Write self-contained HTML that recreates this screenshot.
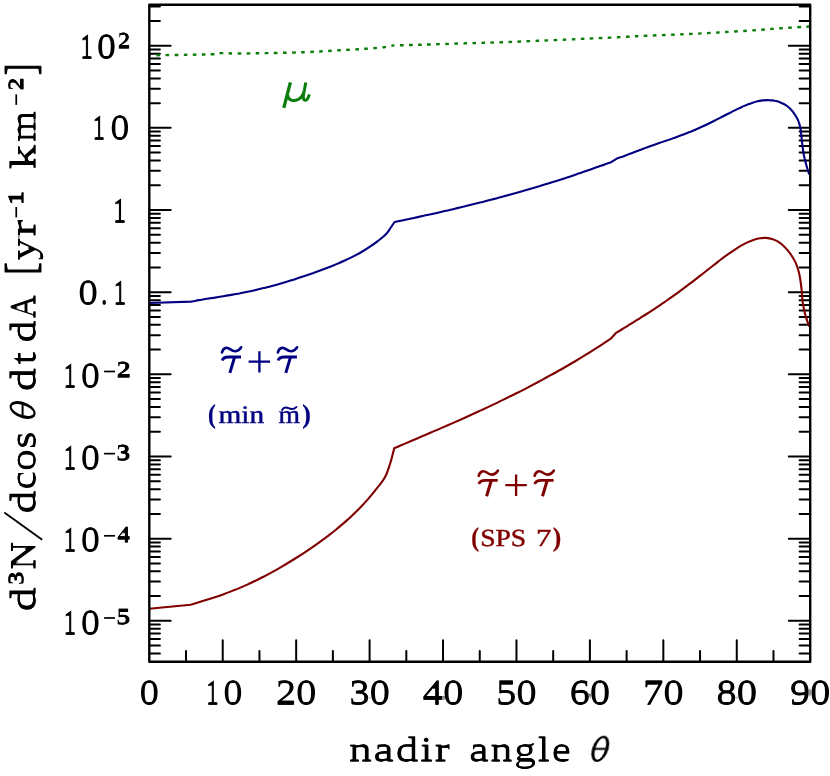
<!DOCTYPE html>
<html><head><meta charset="utf-8"><title>plot</title>
<style>
html,body{margin:0;padding:0;background:#fff;}
body{width:830px;height:776px;overflow:hidden;font-family:"Liberation Serif",serif;}
svg{display:block;will-change:transform;}
text{font-family:"Liberation Serif",serif;text-rendering:geometricPrecision;}
</style></head><body>
<svg width="830" height="776" viewBox="0 0 830 776">
<rect x="0" y="0" width="830" height="776" fill="#fff"/>
<path d="M149.3,653.51h10.6M810.2,653.51h-10.6M149.3,645.55h10.6M810.2,645.55h-10.6M149.3,639.05h10.6M810.2,639.05h-10.6M149.3,633.55h10.6M810.2,633.55h-10.6M149.3,628.78h10.6M810.2,628.78h-10.6M149.3,624.58h10.6M810.2,624.58h-10.6M149.3,620.82h21.4M810.2,620.82h-21.4M149.3,596.09h10.6M810.2,596.09h-10.6M149.3,581.62h10.6M810.2,581.62h-10.6M149.3,571.35h10.6M810.2,571.35h-10.6M149.3,563.39h10.6M810.2,563.39h-10.6M149.3,556.89h10.6M810.2,556.89h-10.6M149.3,551.39h10.6M810.2,551.39h-10.6M149.3,546.62h10.6M810.2,546.62h-10.6M149.3,542.42h10.6M810.2,542.42h-10.6M149.3,538.66h21.4M810.2,538.66h-21.4M149.3,513.93h10.6M810.2,513.93h-10.6M149.3,499.46h10.6M810.2,499.46h-10.6M149.3,489.19h10.6M810.2,489.19h-10.6M149.3,481.23h10.6M810.2,481.23h-10.6M149.3,474.73h10.6M810.2,474.73h-10.6M149.3,469.23h10.6M810.2,469.23h-10.6M149.3,464.46h10.6M810.2,464.46h-10.6M149.3,460.26h10.6M810.2,460.26h-10.6M149.3,456.50h21.4M810.2,456.50h-21.4M149.3,431.77h10.6M810.2,431.77h-10.6M149.3,417.30h10.6M810.2,417.30h-10.6M149.3,407.03h10.6M810.2,407.03h-10.6M149.3,399.07h10.6M810.2,399.07h-10.6M149.3,392.57h10.6M810.2,392.57h-10.6M149.3,387.07h10.6M810.2,387.07h-10.6M149.3,382.30h10.6M810.2,382.30h-10.6M149.3,378.10h10.6M810.2,378.10h-10.6M149.3,374.34h21.4M810.2,374.34h-21.4M149.3,349.61h10.6M810.2,349.61h-10.6M149.3,335.14h10.6M810.2,335.14h-10.6M149.3,324.87h10.6M810.2,324.87h-10.6M149.3,316.91h10.6M810.2,316.91h-10.6M149.3,310.41h10.6M810.2,310.41h-10.6M149.3,304.91h10.6M810.2,304.91h-10.6M149.3,300.14h10.6M810.2,300.14h-10.6M149.3,295.94h10.6M810.2,295.94h-10.6M149.3,292.18h21.4M810.2,292.18h-21.4M149.3,267.45h10.6M810.2,267.45h-10.6M149.3,252.98h10.6M810.2,252.98h-10.6M149.3,242.71h10.6M810.2,242.71h-10.6M149.3,234.75h10.6M810.2,234.75h-10.6M149.3,228.25h10.6M810.2,228.25h-10.6M149.3,222.75h10.6M810.2,222.75h-10.6M149.3,217.98h10.6M810.2,217.98h-10.6M149.3,213.78h10.6M810.2,213.78h-10.6M149.3,210.02h21.4M810.2,210.02h-21.4M149.3,185.29h10.6M810.2,185.29h-10.6M149.3,170.82h10.6M810.2,170.82h-10.6M149.3,160.55h10.6M810.2,160.55h-10.6M149.3,152.59h10.6M810.2,152.59h-10.6M149.3,146.09h10.6M810.2,146.09h-10.6M149.3,140.59h10.6M810.2,140.59h-10.6M149.3,135.82h10.6M810.2,135.82h-10.6M149.3,131.62h10.6M810.2,131.62h-10.6M149.3,127.86h21.4M810.2,127.86h-21.4M149.3,103.13h10.6M810.2,103.13h-10.6M149.3,88.66h10.6M810.2,88.66h-10.6M149.3,78.39h10.6M810.2,78.39h-10.6M149.3,70.43h10.6M810.2,70.43h-10.6M149.3,63.93h10.6M810.2,63.93h-10.6M149.3,58.43h10.6M810.2,58.43h-10.6M149.3,53.66h10.6M810.2,53.66h-10.6M149.3,49.46h10.6M810.2,49.46h-10.6M149.3,45.70h21.4M810.2,45.70h-21.4M149.3,20.97h10.6M810.2,20.97h-10.6M149.3,6.50h10.6M810.2,6.50h-10.6M186.02,661.7v-10.6M222.73,661.7v-21.4M259.45,661.7v-10.6M296.17,661.7v-21.4M332.88,661.7v-10.6M369.60,661.7v-21.4M406.32,661.7v-10.6M443.03,661.7v-21.4M479.75,661.7v-10.6M516.47,661.7v-21.4M553.18,661.7v-10.6M589.90,661.7v-21.4M626.62,661.7v-10.6M663.33,661.7v-21.4M700.05,661.7v-10.6M736.77,661.7v-21.4M773.48,661.7v-10.6" stroke="#000" stroke-width="2.0" fill="none" stroke-linecap="round"/>
<path d="M149.3,55.3 C157.8,55.2 189.6,54.8 200.0,54.6 C210.4,54.4 208.4,54.5 212.0,54.2 C215.6,54.0 217.7,53.2 221.5,53.1 C225.3,53.0 229.1,53.5 235.0,53.5 C240.9,53.5 245.8,53.5 257.0,53.3 C268.2,53.1 288.3,52.8 302.0,52.3 C315.7,51.8 328.5,50.9 339.0,50.3 C349.5,49.7 357.5,49.3 365.0,48.8 C372.5,48.3 379.2,47.8 384.0,47.2 C388.8,46.6 391.9,45.7 393.5,45.4 C398.1,45.3 408.9,45.1 421.0,44.7 C433.1,44.4 452.5,43.7 466.0,43.3 C479.5,42.9 490.0,42.7 502.0,42.3 C514.0,41.9 525.7,41.3 537.8,40.8 C549.9,40.3 564.1,39.7 574.7,39.2 C585.3,38.7 592.4,38.4 601.3,38.0 C610.2,37.6 620.5,37.1 628.0,36.7 C635.5,36.3 637.3,36.1 646.4,35.7 C655.5,35.3 670.5,34.8 682.4,34.3 C694.3,33.8 705.8,33.2 717.8,32.5 C729.8,31.8 743.8,30.9 754.5,30.2 C765.2,29.5 772.6,28.8 781.9,28.2 C791.2,27.6 805.5,26.8 810.2,26.5" stroke="#0a7d0a" stroke-width="2.4" stroke-dasharray="3.6 5.437" stroke-dashoffset="1.8" fill="none"/>
<path d="M149.3,303.0 L190.6,301.6 C192.0,301.4 196.0,300.6 198.7,300.1 C201.4,299.7 204.2,299.2 206.9,298.8 C209.6,298.4 212.3,298.0 215.0,297.6 C217.7,297.1 220.4,296.7 223.1,296.3 C225.9,295.9 228.6,295.4 231.3,294.9 C234.0,294.5 236.7,294.0 239.4,293.5 C242.1,292.9 244.8,292.4 247.6,291.8 C250.3,291.3 253.0,290.7 255.7,290.0 C258.4,289.4 261.1,288.8 263.8,288.1 C266.5,287.4 269.3,286.7 272.0,285.9 C274.7,285.2 277.4,284.5 280.1,283.7 C282.8,282.9 285.5,282.1 288.2,281.3 C291.0,280.4 293.7,279.6 296.4,278.7 C299.1,277.8 301.8,277.0 304.5,276.0 C307.2,275.1 309.9,274.2 312.7,273.3 C315.4,272.3 318.1,271.3 320.8,270.3 C323.5,269.3 326.2,268.3 328.9,267.2 C331.6,266.2 334.4,265.1 337.1,263.9 C339.8,262.8 342.5,261.6 345.2,260.3 C347.9,259.1 350.6,257.8 353.4,256.4 C356.1,255.0 358.8,253.6 361.5,252.0 C364.2,250.4 366.9,248.8 369.6,246.9 C372.3,245.1 375.1,243.2 377.8,241.1 C380.5,239.0 383.8,236.5 385.9,234.3 C388.0,232.1 389.1,230.1 390.5,228.0 C391.9,225.9 393.9,223.0 394.6,222.0 C396.6,221.6 402.6,220.3 406.7,219.5 C410.7,218.6 414.7,217.8 418.7,216.9 C422.7,216.0 426.7,215.1 430.8,214.3 C434.8,213.4 438.8,212.4 442.8,211.5 C446.8,210.6 450.9,209.7 454.9,208.7 C458.9,207.8 462.9,206.8 466.9,205.8 C471.0,204.8 475.0,203.8 479.0,202.8 C483.0,201.8 487.0,200.8 491.0,199.7 C495.1,198.7 499.1,197.6 503.1,196.5 C507.1,195.4 511.1,194.3 515.2,193.2 C519.2,192.1 523.2,190.9 527.2,189.8 C531.2,188.6 535.2,187.4 539.3,186.2 C543.3,185.0 547.3,183.8 551.3,182.5 C555.3,181.3 559.4,180.0 563.4,178.7 C567.4,177.4 571.4,176.1 575.4,174.7 C579.5,173.4 583.5,172.0 587.5,170.6 C591.5,169.2 595.5,167.8 599.5,166.3 C603.6,164.9 609.6,162.6 611.6,161.9 L616.4,158.8 C617.4,158.4 620.5,157.4 622.5,156.7 C624.5,155.9 626.6,155.1 628.6,154.3 C630.6,153.6 632.7,152.8 634.7,152.0 C636.7,151.2 638.8,150.4 640.8,149.7 C642.8,148.9 644.9,148.2 646.9,147.4 C648.9,146.7 650.9,145.9 653.0,145.2 C655.0,144.5 657.0,143.8 659.1,143.1 C661.1,142.4 663.1,141.7 665.2,141.0 C667.2,140.3 669.2,139.6 671.3,138.9 C673.3,138.1 675.3,137.4 677.4,136.7 C679.4,136.0 681.4,135.2 683.5,134.4 C685.5,133.7 687.5,132.9 689.6,132.1 C691.6,131.2 693.6,130.4 695.7,129.5 C697.7,128.7 699.7,127.8 701.8,126.8 C703.8,125.9 705.8,125.0 707.8,124.0 C709.9,123.0 711.9,122.0 713.9,121.0 C716.0,120.0 718.0,118.9 720.0,117.9 C722.1,116.9 724.1,115.8 726.1,114.8 C728.2,113.7 730.2,112.7 732.2,111.6 C734.3,110.6 736.3,109.6 738.3,108.6 C740.4,107.7 742.4,106.7 744.4,105.9 C746.5,105.0 748.5,104.2 750.5,103.5 C752.6,102.8 754.6,102.1 756.6,101.6 C758.6,101.1 760.7,100.7 762.7,100.4 C764.7,100.2 766.8,100.0 768.8,100.1 C770.8,100.1 772.9,100.3 774.9,100.8 C776.9,101.2 779.0,101.8 781.0,102.7 C783.0,103.5 785.1,104.5 787.1,106.0 C789.1,107.5 791.2,109.4 793.0,111.8 C794.8,114.2 796.8,117.4 798.0,120.2 C799.2,123.0 799.8,124.7 800.5,128.6 C801.2,132.5 801.6,139.2 802.2,143.7 C802.8,148.2 803.2,151.8 803.9,155.4 C804.6,159.0 805.4,161.8 806.3,165.0 C807.2,168.2 808.7,172.9 809.2,174.5" stroke="#000080" stroke-width="2.1" fill="none" stroke-linejoin="round"/>
<path d="M149.3,608.8 L190.6,604.7 C192.0,604.3 196.0,603.1 198.7,602.3 C201.4,601.5 204.1,600.7 206.8,599.8 C209.5,599.0 212.2,598.1 214.9,597.2 C217.6,596.3 220.3,595.4 223.0,594.4 C225.7,593.5 228.4,592.5 231.1,591.4 C233.8,590.3 236.5,589.3 239.2,588.1 C241.9,587.0 244.6,585.8 247.3,584.6 C250.0,583.3 252.7,582.1 255.4,580.8 C258.1,579.4 260.8,578.1 263.5,576.7 C266.2,575.3 268.9,573.8 271.6,572.4 C274.3,570.9 277.0,569.4 279.7,567.8 C282.4,566.2 285.1,564.7 287.9,563.0 C290.6,561.4 293.3,559.7 296.0,558.0 C298.7,556.3 301.4,554.6 304.1,552.8 C306.8,551.0 309.5,549.2 312.2,547.3 C314.9,545.5 317.6,543.6 320.3,541.6 C323.0,539.6 325.7,537.6 328.4,535.6 C331.1,533.5 333.8,531.4 336.5,529.2 C339.2,527.0 341.9,524.7 344.6,522.4 C347.3,520.0 350.0,517.6 352.7,515.0 C355.4,512.4 358.1,509.8 360.8,507.0 C363.5,504.2 366.2,501.2 368.9,498.1 C371.6,495.0 374.3,491.7 377.0,488.2 C379.7,484.7 382.9,481.4 385.1,477.1 C387.3,472.9 388.9,467.5 390.4,462.7 C391.9,457.9 393.6,450.6 394.2,448.2 C396.2,447.4 402.2,444.8 406.2,443.1 C410.2,441.4 414.3,439.7 418.3,438.0 C422.3,436.3 426.3,434.6 430.3,432.8 C434.3,431.1 438.3,429.4 442.3,427.6 C446.3,425.9 450.4,424.1 454.4,422.4 C458.4,420.6 462.4,418.8 466.4,417.0 C470.4,415.2 474.4,413.3 478.4,411.5 C482.4,409.6 486.5,407.8 490.5,405.9 C494.5,404.0 498.5,402.1 502.5,400.1 C506.5,398.2 510.5,396.2 514.5,394.2 C518.5,392.2 522.6,390.2 526.6,388.1 C530.6,386.0 534.6,383.9 538.6,381.8 C542.6,379.6 546.6,377.5 550.6,375.2 C554.6,373.0 558.7,370.8 562.7,368.5 C566.7,366.2 570.7,363.8 574.7,361.5 C578.7,359.1 582.7,356.6 586.7,354.2 C590.7,351.7 594.8,349.2 598.8,346.6 C602.8,344.0 608.8,340.0 610.8,338.7 L615.7,333.2 C616.7,332.6 619.7,330.7 621.7,329.5 C623.7,328.3 625.7,327.0 627.7,325.8 C629.7,324.6 631.7,323.3 633.7,322.1 C635.7,320.8 637.8,319.6 639.8,318.3 C641.8,317.0 643.8,315.8 645.8,314.5 C647.8,313.2 649.8,311.9 651.8,310.6 C653.8,309.3 655.8,308.0 657.8,306.6 C659.8,305.3 661.8,303.9 663.8,302.6 C665.8,301.2 667.8,299.8 669.8,298.4 C671.8,297.0 673.8,295.6 675.8,294.1 C677.8,292.7 679.8,291.2 681.9,289.7 C683.9,288.2 685.9,286.7 687.9,285.2 C689.9,283.7 691.9,282.1 693.9,280.6 C695.9,279.1 697.9,277.5 699.9,275.9 C701.9,274.4 703.9,272.8 705.9,271.2 C707.9,269.6 709.9,268.0 711.9,266.5 C713.9,264.9 715.9,263.3 717.9,261.8 C719.9,260.3 721.9,258.7 723.9,257.2 C726.0,255.7 728.0,254.3 730.0,252.9 C732.0,251.5 734.0,250.1 736.0,248.8 C738.0,247.5 740.0,246.3 742.0,245.2 C744.0,244.0 746.0,243.0 748.0,242.1 C750.0,241.2 752.0,240.3 754.0,239.7 C756.0,239.1 758.0,238.6 760.0,238.3 C762.0,238.0 764.0,237.8 766.0,237.9 C768.0,238.1 770.1,238.4 772.1,239.0 C774.1,239.6 776.1,240.5 778.1,241.7 C780.1,243.0 782.1,244.5 784.1,246.4 C786.1,248.3 788.2,250.7 790.1,253.4 C792.0,256.1 794.0,259.1 795.5,262.4 C797.0,265.7 798.1,268.8 799.1,273.2 C800.1,277.6 800.9,283.6 801.5,288.6 C802.1,293.6 802.1,298.5 802.8,303.0 C803.5,307.5 804.4,311.7 805.5,315.6 C806.6,319.5 808.6,324.8 809.2,326.6" stroke="#800000" stroke-width="2.1" fill="none" stroke-linejoin="round"/>
<rect x="149.3" y="4.8" width="660.9" height="656.9" fill="none" stroke="#000" stroke-width="2.4" stroke-linejoin="round"/>
<defs><filter id="ex" filterUnits="userSpaceOnUse" x="0" y="0" width="830" height="776"><feMorphology operator="erode" radius="1 0"/></filter><filter id="ey" filterUnits="userSpaceOnUse" x="0" y="0" width="830" height="776"><feMorphology operator="erode" radius="0 1"/></filter></defs>
<g filter="url(#ex)"><text transform="translate(139.22,703.60) scale(1.1121,1.0000)" font-size="34.8" fill="#000" stroke="#000" stroke-width="1.3">0</text><text transform="translate(140.02,703.60) scale(1.1121,1.0000)" font-size="34.8" fill="#000" stroke="#000" stroke-width="1.3">0</text>
<text transform="translate(205.17,703.60) scale(0.7789,1.0000)" font-size="34.8" fill="#000" stroke="#000" stroke-width="1.3">1</text><text transform="translate(205.97,703.60) scale(0.7789,1.0000)" font-size="34.8" fill="#000" stroke="#000" stroke-width="1.3">1</text>
<text transform="translate(222.88,703.60) scale(1.0995,1.0000)" font-size="34.8" fill="#000" stroke="#000" stroke-width="1.3">0</text><text transform="translate(223.68,703.60) scale(1.0995,1.0000)" font-size="34.8" fill="#000" stroke="#000" stroke-width="1.3">0</text>
<text transform="translate(275.45,703.60) scale(1.1677,1.0000)" font-size="34.8" fill="#000" stroke="#000" stroke-width="1.3">20</text><text transform="translate(276.25,703.60) scale(1.1677,1.0000)" font-size="34.8" fill="#000" stroke="#000" stroke-width="1.3">20</text>
<text transform="translate(348.88,703.60) scale(1.1676,1.0000)" font-size="34.8" fill="#000" stroke="#000" stroke-width="1.3">30</text><text transform="translate(349.68,703.60) scale(1.1676,1.0000)" font-size="34.8" fill="#000" stroke="#000" stroke-width="1.3">30</text>
<text transform="translate(422.31,703.60) scale(1.1680,1.0000)" font-size="34.8" fill="#000" stroke="#000" stroke-width="1.3">40</text><text transform="translate(423.11,703.60) scale(1.1680,1.0000)" font-size="34.8" fill="#000" stroke="#000" stroke-width="1.3">40</text>
<text transform="translate(495.75,703.60) scale(1.1675,1.0000)" font-size="34.8" fill="#000" stroke="#000" stroke-width="1.3">50</text><text transform="translate(496.55,703.60) scale(1.1675,1.0000)" font-size="34.8" fill="#000" stroke="#000" stroke-width="1.3">50</text>
<text transform="translate(569.18,703.60) scale(1.1677,1.0000)" font-size="34.8" fill="#000" stroke="#000" stroke-width="1.3">60</text><text transform="translate(569.98,703.60) scale(1.1677,1.0000)" font-size="34.8" fill="#000" stroke="#000" stroke-width="1.3">60</text>
<text transform="translate(642.62,703.60) scale(1.1675,1.0000)" font-size="34.8" fill="#000" stroke="#000" stroke-width="1.3">70</text><text transform="translate(643.42,703.60) scale(1.1675,1.0000)" font-size="34.8" fill="#000" stroke="#000" stroke-width="1.3">70</text>
<text transform="translate(716.05,703.60) scale(1.1678,1.0000)" font-size="34.8" fill="#000" stroke="#000" stroke-width="1.3">80</text><text transform="translate(716.85,703.60) scale(1.1678,1.0000)" font-size="34.8" fill="#000" stroke="#000" stroke-width="1.3">80</text>
<text transform="translate(789.48,703.60) scale(1.1679,1.0000)" font-size="34.8" fill="#000" stroke="#000" stroke-width="1.3">90</text><text transform="translate(790.28,703.60) scale(1.1679,1.0000)" font-size="34.8" fill="#000" stroke="#000" stroke-width="1.3">90</text>
<text transform="translate(348.45,761.40) scale(1.3276,1.0000)" font-size="34.7" fill="#000" letter-spacing="1.215" stroke="#000" stroke-width="0.9">nadir</text><text transform="translate(349.15,761.40) scale(1.3276,1.0000)" font-size="34.7" fill="#000" letter-spacing="1.215" stroke="#000" stroke-width="0.9">nadir</text>
<text transform="translate(468.83,761.40) scale(1.2746,1.0000)" font-size="34.7" fill="#000" letter-spacing="1.215" stroke="#000" stroke-width="0.9">angle</text><text transform="translate(469.53,761.40) scale(1.2746,1.0000)" font-size="34.7" fill="#000" letter-spacing="1.215" stroke="#000" stroke-width="0.9">angle</text>
<text transform="translate(79.62,58.00) scale(0.7567,1.0000)" font-size="34.8" fill="#000" stroke="#000" stroke-width="1.3">1</text><text transform="translate(80.42,58.00) scale(0.7567,1.0000)" font-size="34.8" fill="#000" stroke="#000" stroke-width="1.3">1</text>
<text transform="translate(96.60,58.00) scale(1.0807,1.0000)" font-size="34.8" fill="#000" stroke="#000" stroke-width="1.3">0</text><text transform="translate(97.40,58.00) scale(1.0807,1.0000)" font-size="34.8" fill="#000" stroke="#000" stroke-width="1.3">0</text>
<text transform="translate(117.18,48.30) scale(1.1480,1.0000)" font-size="22.6" fill="#000" font-weight="bold" stroke="#000" stroke-width="0.9">2</text><text transform="translate(117.68,48.30) scale(1.1480,1.0000)" font-size="22.6" fill="#000" font-weight="bold" stroke="#000" stroke-width="0.9">2</text>
<text transform="translate(91.80,139.46) scale(0.7641,1.0000)" font-size="34.8" fill="#000" stroke="#000" stroke-width="1.3">1</text><text transform="translate(92.60,139.46) scale(0.7641,1.0000)" font-size="34.8" fill="#000" stroke="#000" stroke-width="1.3">1</text>
<text transform="translate(109.89,139.46) scale(1.0932,1.0000)" font-size="34.8" fill="#000" stroke="#000" stroke-width="1.3">0</text><text transform="translate(110.69,139.46) scale(1.0932,1.0000)" font-size="34.8" fill="#000" stroke="#000" stroke-width="1.3">0</text>
<text transform="translate(112.21,221.62) scale(0.8012,1.0000)" font-size="34.8" fill="#000" stroke="#000" stroke-width="1.3">1</text><text transform="translate(113.01,221.62) scale(0.8012,1.0000)" font-size="34.8" fill="#000" stroke="#000" stroke-width="1.3">1</text>
<text transform="translate(78.07,303.78) scale(1.1184,1.0000)" font-size="34.8" fill="#000" stroke="#000" stroke-width="1.3">0</text><text transform="translate(78.87,303.78) scale(1.1184,1.0000)" font-size="34.8" fill="#000" stroke="#000" stroke-width="1.3">0</text>
<text transform="translate(99.89,303.78) scale(0.8766,1.0000)" font-size="34.8" fill="#000" stroke="#000" stroke-width="1.3">.</text><text transform="translate(100.69,303.78) scale(0.8766,1.0000)" font-size="34.8" fill="#000" stroke="#000" stroke-width="1.3">.</text>
<text transform="translate(112.69,303.78) scale(0.7715,1.0000)" font-size="34.8" fill="#000" stroke="#000" stroke-width="1.3">1</text><text transform="translate(113.49,303.78) scale(0.7715,1.0000)" font-size="34.8" fill="#000" stroke="#000" stroke-width="1.3">1</text>
<text transform="translate(62.69,387.04) scale(0.7715,1.0000)" font-size="34.8" fill="#000" stroke="#000" stroke-width="1.3">1</text><text transform="translate(63.49,387.04) scale(0.7715,1.0000)" font-size="34.8" fill="#000" stroke="#000" stroke-width="1.3">1</text>
<text transform="translate(80.49,387.04) scale(1.0932,1.0000)" font-size="34.8" fill="#000" stroke="#000" stroke-width="1.3">0</text><text transform="translate(81.29,387.04) scale(1.0932,1.0000)" font-size="34.8" fill="#000" stroke="#000" stroke-width="1.3">0</text>
<text transform="translate(115.90,377.34) scale(1.3134,1.0000)" font-size="22.6" fill="#000" font-weight="bold" stroke="#000" stroke-width="0.9">2</text><text transform="translate(116.40,377.34) scale(1.3134,1.0000)" font-size="22.6" fill="#000" font-weight="bold" stroke="#000" stroke-width="0.9">2</text>
<text transform="translate(62.69,469.20) scale(0.7715,1.0000)" font-size="34.8" fill="#000" stroke="#000" stroke-width="1.3">1</text><text transform="translate(63.49,469.20) scale(0.7715,1.0000)" font-size="34.8" fill="#000" stroke="#000" stroke-width="1.3">1</text>
<text transform="translate(80.49,469.20) scale(1.0932,1.0000)" font-size="34.8" fill="#000" stroke="#000" stroke-width="1.3">0</text><text transform="translate(81.29,469.20) scale(1.0932,1.0000)" font-size="34.8" fill="#000" stroke="#000" stroke-width="1.3">0</text>
<text transform="translate(115.92,459.50) scale(1.2851,1.0000)" font-size="22.6" fill="#000" font-weight="bold" stroke="#000" stroke-width="0.9">3</text><text transform="translate(116.42,459.50) scale(1.2851,1.0000)" font-size="22.6" fill="#000" font-weight="bold" stroke="#000" stroke-width="0.9">3</text>
<text transform="translate(62.69,551.36) scale(0.7715,1.0000)" font-size="34.8" fill="#000" stroke="#000" stroke-width="1.3">1</text><text transform="translate(63.49,551.36) scale(0.7715,1.0000)" font-size="34.8" fill="#000" stroke="#000" stroke-width="1.3">1</text>
<text transform="translate(80.49,551.36) scale(1.0932,1.0000)" font-size="34.8" fill="#000" stroke="#000" stroke-width="1.3">0</text><text transform="translate(81.29,551.36) scale(1.0932,1.0000)" font-size="34.8" fill="#000" stroke="#000" stroke-width="1.3">0</text>
<text transform="translate(116.63,541.66) scale(1.1833,1.0000)" font-size="22.6" fill="#000" font-weight="bold" stroke="#000" stroke-width="0.9">4</text><text transform="translate(117.13,541.66) scale(1.1833,1.0000)" font-size="22.6" fill="#000" font-weight="bold" stroke="#000" stroke-width="0.9">4</text>
<text transform="translate(62.69,633.52) scale(0.7715,1.0000)" font-size="34.8" fill="#000" stroke="#000" stroke-width="1.3">1</text><text transform="translate(63.49,633.52) scale(0.7715,1.0000)" font-size="34.8" fill="#000" stroke="#000" stroke-width="1.3">1</text>
<text transform="translate(80.49,633.52) scale(1.0932,1.0000)" font-size="34.8" fill="#000" stroke="#000" stroke-width="1.3">0</text><text transform="translate(81.29,633.52) scale(1.0932,1.0000)" font-size="34.8" fill="#000" stroke="#000" stroke-width="1.3">0</text>
<text transform="translate(115.92,623.82) scale(1.2851,1.0000)" font-size="22.6" fill="#000" font-weight="bold" stroke="#000" stroke-width="0.9">5</text><text transform="translate(116.42,623.82) scale(1.2851,1.0000)" font-size="22.6" fill="#000" font-weight="bold" stroke="#000" stroke-width="0.9">5</text></g>
<g filter="url(#ey)"><g transform="translate(35.3,610.4) rotate(-90)"><text transform="translate(-1.71,0.00) scale(1.3715,1.0000)" font-size="36.0" fill="#000" stroke="#000" stroke-width="0.9">d</text><text transform="translate(-1.01,0.00) scale(1.3715,1.0000)" font-size="36.0" fill="#000" stroke="#000" stroke-width="0.9">d</text><text transform="translate(25.17,-12.00) scale(1.2951,1.0000)" font-size="21.5" fill="#000" font-weight="bold" stroke="#000" stroke-width="0.9">3</text><text transform="translate(25.67,-12.00) scale(1.2951,1.0000)" font-size="21.5" fill="#000" font-weight="bold" stroke="#000" stroke-width="0.9">3</text><text transform="translate(40.43,0.00) scale(1.0711,1.0000)" font-size="36.0" fill="#000" stroke="#000" stroke-width="0.9">N</text><text transform="translate(41.13,0.00) scale(1.0711,1.0000)" font-size="36.0" fill="#000" stroke="#000" stroke-width="0.9">N</text><text transform="translate(96.36,0.00) scale(1.2847,1.0000)" font-size="36.0" fill="#000" stroke="#000" stroke-width="0.9">d</text><text transform="translate(97.06,0.00) scale(1.2847,1.0000)" font-size="36.0" fill="#000" stroke="#000" stroke-width="0.9">d</text><text transform="translate(120.36,0.00) scale(1.1528,1.0000)" font-size="36.0" fill="#000" stroke="#000" stroke-width="0.9">c</text><text transform="translate(121.06,0.00) scale(1.1528,1.0000)" font-size="36.0" fill="#000" stroke="#000" stroke-width="0.9">c</text><text transform="translate(138.88,0.00) scale(1.2297,1.0000)" font-size="36.0" fill="#000" stroke="#000" stroke-width="0.9">o</text><text transform="translate(139.58,0.00) scale(1.2297,1.0000)" font-size="36.0" fill="#000" stroke="#000" stroke-width="0.9">o</text><text transform="translate(161.16,0.00) scale(1.2500,1.0000)" font-size="36.0" fill="#000" stroke="#000" stroke-width="0.9">s</text><text transform="translate(161.86,0.00) scale(1.2500,1.0000)" font-size="36.0" fill="#000" stroke="#000" stroke-width="0.9">s</text><text transform="translate(218.75,0.00) scale(1.3021,1.0000)" font-size="36.0" fill="#000" stroke="#000" stroke-width="0.9">d</text><text transform="translate(219.45,0.00) scale(1.3021,1.0000)" font-size="36.0" fill="#000" stroke="#000" stroke-width="0.9">d</text><text transform="translate(245.32,0.00) scale(1.2865,1.0000)" font-size="36.0" fill="#000" stroke="#000" stroke-width="0.9">t</text><text transform="translate(246.02,0.00) scale(1.2865,1.0000)" font-size="36.0" fill="#000" stroke="#000" stroke-width="0.9">t</text><text transform="translate(267.40,0.00) scale(1.2384,1.0000)" font-size="36.0" fill="#000" stroke="#000" stroke-width="0.9">d</text><text transform="translate(268.10,0.00) scale(1.2384,1.0000)" font-size="36.0" fill="#000" stroke="#000" stroke-width="0.9">d</text><text transform="translate(291.68,0.00) scale(0.9018,1.0000)" font-size="36.0" fill="#000" stroke="#000" stroke-width="0.9">A</text><text transform="translate(292.38,0.00) scale(0.9018,1.0000)" font-size="36.0" fill="#000" stroke="#000" stroke-width="0.9">A</text><text transform="translate(334.12,0.00) scale(1.1905,1.1900)" font-size="36.0" fill="#000" stroke="#000" stroke-width="0.9">[</text><text transform="translate(334.82,0.00) scale(1.1905,1.1900)" font-size="36.0" fill="#000" stroke="#000" stroke-width="0.9">[</text><text transform="translate(349.71,0.00) scale(1.2255,1.0000)" font-size="36.0" fill="#000" stroke="#000" stroke-width="0.9">y</text><text transform="translate(350.41,0.00) scale(1.2255,1.0000)" font-size="36.0" fill="#000" stroke="#000" stroke-width="0.9">y</text><text transform="translate(373.52,0.00) scale(1.4141,1.0000)" font-size="36.0" fill="#000" stroke="#000" stroke-width="0.9">r</text><text transform="translate(374.22,0.00) scale(1.4141,1.0000)" font-size="36.0" fill="#000" stroke="#000" stroke-width="0.9">r</text><text transform="translate(404.54,-12.00) scale(1.3890,1.0000)" font-size="21.5" fill="#000" font-weight="bold" stroke="#000" stroke-width="0.9">1</text><text transform="translate(405.04,-12.00) scale(1.3890,1.0000)" font-size="21.5" fill="#000" font-weight="bold" stroke="#000" stroke-width="0.9">1</text><text transform="translate(440.73,0.00) scale(1.3696,1.0000)" font-size="36.0" fill="#000" stroke="#000" stroke-width="0.9">k</text><text transform="translate(441.43,0.00) scale(1.3696,1.0000)" font-size="36.0" fill="#000" stroke="#000" stroke-width="0.9">k</text><text transform="translate(468.20,0.00) scale(1.1038,1.0000)" font-size="36.0" fill="#000" stroke="#000" stroke-width="0.9">m</text><text transform="translate(468.90,0.00) scale(1.1038,1.0000)" font-size="36.0" fill="#000" stroke="#000" stroke-width="0.9">m</text><text transform="translate(519.49,-12.00) scale(1.2522,1.0000)" font-size="21.5" fill="#000" font-weight="bold" stroke="#000" stroke-width="0.9">2</text><text transform="translate(519.99,-12.00) scale(1.2522,1.0000)" font-size="21.5" fill="#000" font-weight="bold" stroke="#000" stroke-width="0.9">2</text><text transform="translate(534.22,0.00) scale(1.0889,1.1900)" font-size="36.0" fill="#000" stroke="#000" stroke-width="0.9">]</text><text transform="translate(534.92,0.00) scale(1.0889,1.1900)" font-size="36.0" fill="#000" stroke="#000" stroke-width="0.9">]</text></g></g>
<g transform="translate(591.40,761.80) skewX(-15)" fill="#000" stroke="none"><path fill-rule="evenodd" d="M-2.85,-12.9 A8.3,13.0 0 1 0 13.75,-12.9 A8.3,13.0 0 1 0 -2.85,-12.9 Z M0.35,-12.9 A5.1,10.9 0 1 0 10.55,-12.9 A5.1,10.9 0 1 0 0.35,-12.9 Z"/><rect x="-0.5499999999999998" y="-13.9" width="12" height="2.0"/></g>
<rect x="104.1" y="370.64" width="10.9" height="1.7" fill="#000"/>
<rect x="104.1" y="452.80" width="10.9" height="1.7" fill="#000"/>
<rect x="104.1" y="534.96" width="10.9" height="1.7" fill="#000"/>
<rect x="104.1" y="617.12" width="10.9" height="1.7" fill="#000"/>
<g transform="translate(35.3,610.4) rotate(-90)"><path d="M70.6,6.9 L98.0,-31.0" stroke="#000" stroke-width="1.9" fill="none"/><g transform="translate(191.50,0.20) skewX(-15)" fill="#000" stroke="none"><path fill-rule="evenodd" d="M-2.85,-12.9 A8.3,13.0 0 1 0 13.75,-12.9 A8.3,13.0 0 1 0 -2.85,-12.9 Z M0.35,-12.9 A5.1,10.9 0 1 0 10.55,-12.9 A5.1,10.9 0 1 0 0.35,-12.9 Z"/><rect x="-0.5499999999999998" y="-13.9" width="12" height="2.0"/></g><rect x="393.0" y="-19.9" width="10.4" height="1.7" fill="#000"/><rect x="505.5" y="-19.9" width="10.5" height="1.7" fill="#000"/></g>
<g stroke="#0a7d0a" stroke-width="3.3" fill="none" stroke-linejoin="round"><path d="M290.4,82.4 L283.8,107.8"/><path d="M287.6,94.5 C287.6,100.6 293.5,101.6 298.3,99.3 C301.6,97.6 303.4,94.6 304.3,90.6 L305.8,82.4 M304.3,90.6 C303.0,96.2 302.6,100.1 305.4,100.3 C307.6,100.3 308.5,97.4 309.3,94.4" stroke-width="3.0"/></g>
<g transform="translate(0,0)" stroke="#000080" fill="none"><g transform="translate(0,0)"><path d="M222.0,352.4 C223.4,347.5 226.8,346.8 230.0,349.1 C233.6,351.8 237.8,352.6 241.2,347.3" stroke-width="2.6" stroke-linecap="round"/><path d="M222.1,360.6 C223.2,357.8 225.2,357.0 228.2,357.0 L241.0,357.0" stroke-width="2.8"/><path d="M234.5,357.4 L229.9,372.9" stroke-width="3.0"/></g><g transform="translate(55.9,0)"><path d="M222.0,352.4 C223.4,347.5 226.8,346.8 230.0,349.1 C233.6,351.8 237.8,352.6 241.2,347.3" stroke-width="2.6" stroke-linecap="round"/><path d="M222.1,360.6 C223.2,357.8 225.2,357.0 228.2,357.0 L241.0,357.0" stroke-width="2.8"/><path d="M234.5,357.4 L229.9,372.9" stroke-width="3.0"/></g><path d="M248.6,361.7 H270.1 M259.4,351.2 V372.6" stroke-width="2.3"/></g>
<g transform="translate(256.7,123.4)" stroke="#800000" fill="none"><g transform="translate(0,0)"><path d="M222.0,352.4 C223.4,347.5 226.8,346.8 230.0,349.1 C233.6,351.8 237.8,352.6 241.2,347.3" stroke-width="2.6" stroke-linecap="round"/><path d="M222.1,360.6 C223.2,357.8 225.2,357.0 228.2,357.0 L241.0,357.0" stroke-width="2.8"/><path d="M234.5,357.4 L229.9,372.9" stroke-width="3.0"/></g><g transform="translate(55.9,0)"><path d="M222.0,352.4 C223.4,347.5 226.8,346.8 230.0,349.1 C233.6,351.8 237.8,352.6 241.2,347.3" stroke-width="2.6" stroke-linecap="round"/><path d="M222.1,360.6 C223.2,357.8 225.2,357.0 228.2,357.0 L241.0,357.0" stroke-width="2.8"/><path d="M234.5,357.4 L229.9,372.9" stroke-width="3.0"/></g><path d="M248.6,361.7 H270.1 M259.4,351.2 V372.6" stroke-width="2.3"/></g>
<text transform="translate(208.08,422.90) scale(0.8479,0.9700)" font-size="27.5" fill="#000080" font-weight="bold" stroke="#000080" stroke-width="0.3">(</text>
<text transform="translate(218.48,422.90) scale(1.0662,0.9200)" font-size="27.5" fill="#000080" stroke="#000080" stroke-width="0.5">min</text>
<text transform="translate(278.50,422.90) scale(1.0072,0.9200)" font-size="27.5" fill="#000080" stroke="#000080" stroke-width="0.5">m</text>
<path d="M282.0,410.0 C283.5,407.3 286,407.0 288.5,408.2 C291.3,409.6 294,409.5 296.5,406.9" stroke="#000080" stroke-width="1.9" fill="none" stroke-linecap="round"/>
<text transform="translate(302.27,422.90) scale(0.9396,0.9700)" font-size="27.5" fill="#000080" font-weight="bold" stroke="#000080" stroke-width="0.3">)</text>
<text transform="translate(471.16,546.20) scale(0.8615,0.9700)" font-size="27.5" fill="#800000" font-weight="bold" stroke="#800000" stroke-width="0.3">(</text>
<text transform="translate(480.16,546.20) scale(1.0035,0.8900)" font-size="27.5" fill="#800000" stroke="#800000" stroke-width="0.5">SPS</text>
<text transform="translate(535.98,546.20) scale(1.1171,0.8900)" font-size="27.5" fill="#800000" stroke="#800000" stroke-width="0.5">7</text>
<text transform="translate(552.67,546.20) scale(0.9262,0.9700)" font-size="27.5" fill="#800000" font-weight="bold" stroke="#800000" stroke-width="0.3">)</text>
</svg>
</body></html>
